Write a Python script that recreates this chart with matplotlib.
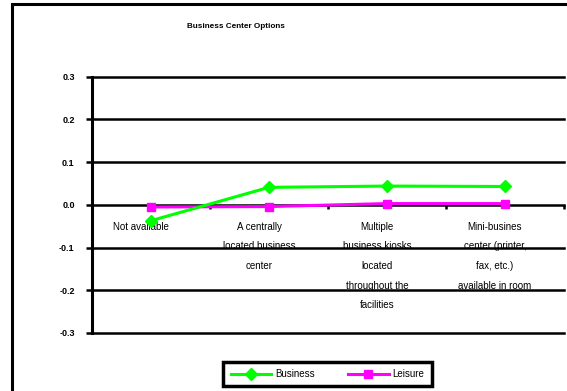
import matplotlib.pyplot as plt
from matplotlib.patches import Rectangle
from matplotlib.transforms import offset_copy

plt.rcParams['font.family'] = ['Liberation Sans', 'DejaVu Sans']

categories = ['Not available',
              'A centrally\nlocated business\ncenter',
              'Multiple\nbusiness kiosks\nlocated\nthroughout the\nfacilities',
              'Mini-busines\ncenter (printer,\nfax, etc.)\navailable in room']
business = [-0.037, 0.041, 0.044, 0.043]
leisure = [-0.005, -0.004, 0.003, 0.003]
yticks = [0.3, 0.2, 0.1, 0.0, -0.1, -0.2, -0.3]

fig = plt.figure(figsize=(5.67, 3.91), dpi=100)
ax = fig.add_axes([92/567, 1 - 333/391, (564 - 92)/567, (333 - 76.7)/391])

x = list(range(len(categories)))
ax.set_xlim(-0.5, len(categories) - 0.5)
ax.set_ylim(-0.3, 0.3)

# horizontal gridlines (drawn over the labels like in excel)
for v in yticks:
    ax.axhline(v, color='black', lw=1.8, zorder=4, clip_on=False)

ax.plot(x, business, color='#00FF00', lw=2.2, marker='D', ms=6.5,
        label='Business', zorder=6)
ax.plot(x, leisure, color='#FF00FF', lw=2.2, marker='s', ms=5.5,
        label='Leisure', zorder=5)

ax.set_yticks(yticks)
ax.set_yticklabels(['%.1f' % v for v in yticks], fontsize=6.5, fontweight='bold')
ax.tick_params(axis='y', length=4.5, width=1.8, pad=8)

# category axis at zero
ax.spines['bottom'].set_visible(False)
ax.spines['top'].set_visible(False)
ax.spines['right'].set_visible(False)
ax.spines['left'].set_linewidth(2.2)
ax.spines['left'].set_capstyle('projecting')
ax.set_xticks([i + 0.5 for i in x])
ax.set_xticklabels([])
ax.xaxis.set_ticks_position('bottom')
ax.spines['bottom'].set_position(('data', 0))
ax.tick_params(axis='x', length=3, width=1.8, direction='out')

trans = offset_copy(ax.transData, fig=fig, x=-10, y=-17, units='dots')
for i, lab in enumerate(categories):
    ax.text(i, 0, lab, transform=trans, ha='center', va='top', fontsize=7,
            linespacing=2.2, zorder=2, clip_on=False)

fig.text(187/567, 1 - 27/391, 'Business Center Options', fontsize=5.9,
         fontweight='bold', ha='left', va='center')

leg = ax.legend(loc='center', bbox_to_anchor=(327.5/567, 1 - 374/391),
                bbox_transform=fig.transFigure, ncol=2, fontsize=7,
                frameon=True, fancybox=False, framealpha=1, handlelength=4.2,
                handletextpad=0.4, columnspacing=3.4, borderpad=0.75)
leg.get_frame().set_edgecolor('black')
leg.get_frame().set_linewidth(2.5)

# outer chart frame, cut off on the right and bottom
fig.add_artist(Rectangle((11.5/567, -0.2), 1.2, 1.2 - 4/391, transform=fig.transFigure,
                         fill=False, edgecolor='black', lw=2.2))

fig.savefig('out.png', dpi=100)
